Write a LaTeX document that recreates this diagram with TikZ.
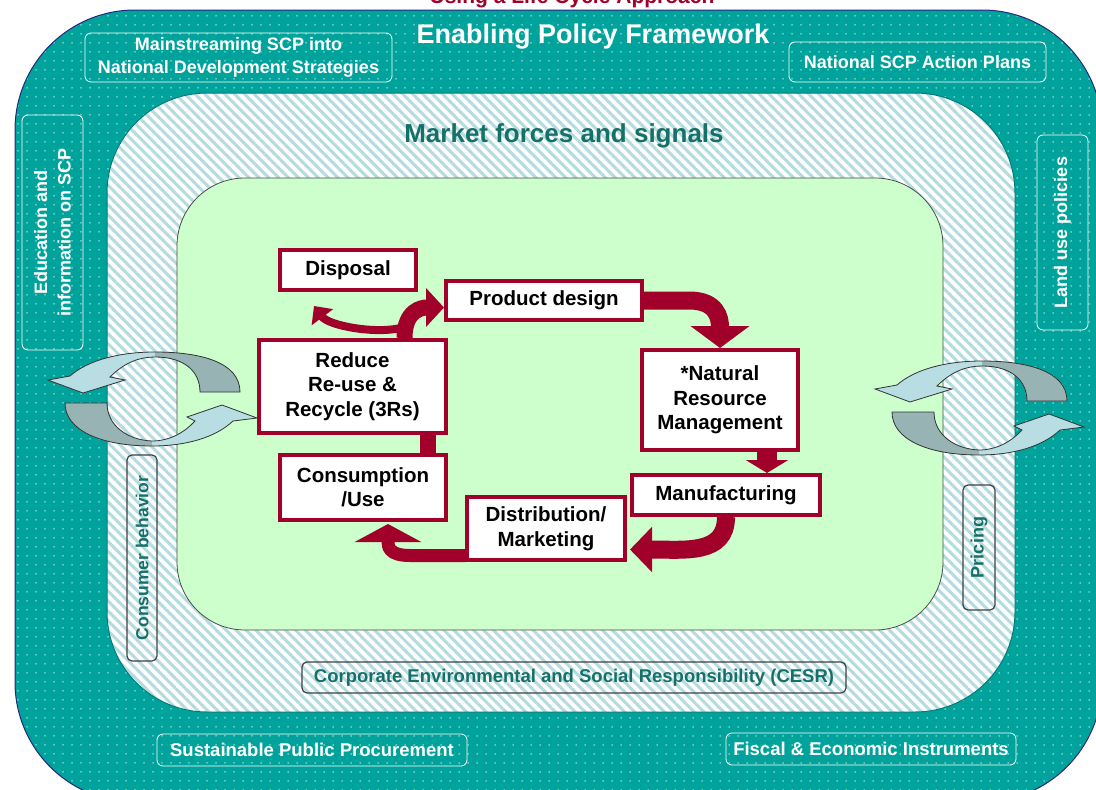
\documentclass[tikz,border=0pt]{standalone}
\usepackage{fontspec}
\setmainfont{Liberation Sans}
\usetikzlibrary{arrows.meta,patterns.meta}

\definecolor{policyteal}{HTML}{00A39C}
\definecolor{stripeblue}{HTML}{B4DCE0}
\definecolor{marketgreen}{HTML}{CCFFCC}
\definecolor{cyclered}{HTML}{A0002A}
\definecolor{darkteal}{HTML}{16706A}
\definecolor{ribbonblue}{HTML}{B8DEE4}
\definecolor{ribbongray}{HTML}{97B3B3}
\definecolor{rimnavy}{HTML}{262680}

\newcommand{\boxfont}{\fontsize{20.5}{24.5}\selectfont\bfseries}
\newcommand{\tealfont}{\fontsize{18}{23.5}\selectfont\bfseries}
\newcommand{\headfont}{\fontsize{27}{30}\selectfont\bfseries}

% the two ribbons of a turning cycle
\newcommand{\upperband}{(240,392) .. controls (240,362) and (200,352) .. (155,352) .. controls (120,352) and (88,360) .. (70,376) -- (48,380) -- (83,393) -- (125,380) -- (110,377) .. controls (125,362) and (140,357) .. (155,357) .. controls (185,357) and (200,372) .. (200,392) -- cycle}
\newcommand{\lowerband}{(65,403) -- (107,403) .. controls (107,426) and (128,440) .. (152,441) .. controls (170,441) and (185,432) .. (195,421) -- (187,417) -- (222,405) -- (257,418) -- (233,421) .. controls (215,438) and (185,446) .. (152,446) .. controls (100,446) and (65,430) .. (65,403) -- cycle}

\begin{document}
\begin{tikzpicture}[x=1pt,y=-1pt,
  redbox/.style={draw=cyclered, line width=4pt, fill=white, inner sep=0pt, align=center, font=\boxfont},
  tealbox/.style={draw=white, line width=0.8pt, rounded corners=6pt, inner sep=0pt, align=center, text=white, font=\tealfont},
  hatchbox/.style={draw=black!75, line width=1.2pt, rounded corners=5pt, inner sep=0pt, align=center, text=darkteal, font=\tealfont},
  redflow/.style={draw=cyclered, line width=#1}]

\useasboundingbox (0,0) rectangle (1096,790);
\clip (0,0) rectangle (1096,790);

%Drawing the three frames
\path[preaction={fill=policyteal}, pattern={Dots[distance=9pt,radius=0.75pt]}, pattern color=white!85!policyteal,
  draw=rimnavy, line width=1pt, rounded corners=120pt] (15,10) rectangle (1102,802);
\path[preaction={fill=white}, pattern={Lines[angle=-45,distance=7pt,line width=3pt]}, pattern color=stripeblue,
  draw=policyteal!75!black, line width=1pt, rounded corners=100pt] (107,93) rectangle (1015,712);
\draw[fill=marketgreen, draw=black!70, line width=0.8pt, rounded corners=68pt] (177,178) rectangle (943,630);

%titles
\node[anchor=base, text=cyclered, font=\fontsize{21}{24}\selectfont\bfseries] (approach) at (572,3.5) {Using a Life Cycle Approach};
\node[text=white, font=\headfont] (policy) at (593,37) {Enabling Policy Framework};
\node[text=darkteal, font=\fontsize{26}{30}\selectfont\bfseries] (market) at (564,136) {Market forces and signals};

%policy instruments
\node[tealbox, minimum width=307pt, minimum height=49pt] (mainstream) at (238.5,57.5) {Mainstreaming SCP into\\National Development Strategies};
\node[tealbox, minimum width=257pt, minimum height=40pt] (actionplans) at (917.5,62) {National SCP Action Plans};
\node[tealbox, rotate=90, minimum width=235pt, minimum height=61pt] (education) at (52.5,232.5) {Education and\\information on SCP};
\node[tealbox, rotate=90, minimum width=195pt, minimum height=51pt] (landuse) at (1062.5,232.5) {Land use policies};
\node[tealbox, minimum width=310pt, minimum height=32pt, font=\fontsize{18.5}{22}\selectfont\bfseries] (procurement) at (312,750) {Sustainable Public Procurement};
\node[tealbox, minimum width=290pt, minimum height=32pt, font=\fontsize{18.5}{22}\selectfont\bfseries] (fiscal) at (871,749) {Fiscal \& Economic Instruments};

%market signals
\node[hatchbox, rotate=90, minimum width=206pt, minimum height=30pt, font=\fontsize{17.5}{21}\selectfont\bfseries] (consumer) at (142,558) {Consumer behavior};
\node[hatchbox, rotate=90, minimum width=125pt, minimum height=32pt] (pricing) at (979,547.5) {Pricing};
\node[hatchbox, minimum width=544pt, minimum height=31pt, font=\fontsize{18.5}{22}\selectfont\bfseries] (cesr) at (574,677.5) {Corporate Environmental and Social Responsibility (CESR)};

%turning cycles left and right
\foreach \cx/\cy in {0/0,827/9}{
  \begin{scope}[shift={(\cx,\cy)}]
    \fill[ribbonblue] \upperband;
    \begin{scope}
      \clip (155,340) rectangle (262,400);
      \fill[ribbongray] \upperband;
    \end{scope}
    \draw[black!80, line width=0.8pt] \upperband;
    \fill[ribbonblue] \lowerband;
    \begin{scope}
      \clip (40,400) rectangle (152,450);
      \fill[ribbongray] \lowerband;
    \end{scope}
    \draw[black!80, line width=0.8pt] \lowerband;
  \end{scope}
}

%life cycle stages
\node[redbox, minimum width=136pt, minimum height=40pt] (disp) at (348,270) {Disposal};
\node[redbox, minimum width=196pt, minimum height=39pt] (design) at (544,300.5) {Product design};
\node[redbox, minimum width=187pt, minimum height=93pt] (rrr) at (352.5,386.5) {Reduce\\Re-use \&\\Recycle (3Rs)};
\node[redbox, minimum width=156pt, minimum height=100pt] (nrm) at (720,400) {*Natural\\Resource\\Management};
\node[redbox, minimum width=188pt, minimum height=40pt] (manu) at (726,495) {Manufacturing};
\node[redbox, minimum width=166pt, minimum height=65pt] (cons) at (363,487.5) {Consumption\\/Use};
\node[redbox, minimum width=158pt, minimum height=63pt] (dist) at (546,528.5) {Distribution/\\Marketing};

%connecting the stages
\draw[redflow=16pt, -{Triangle[length=18pt,width=38pt]}] ([xshift=52pt]rrr.north) .. controls +(0,-28) and +(-22,0) .. ([yshift=-7pt]design.west);
\draw[redflow=8pt, -{Triangle[length=14pt,width=26pt]}] ([xshift=48pt,yshift=10pt]rrr.north) .. controls +(-25,6) and +(15,20) .. ([xshift=-34pt,yshift=-14pt]disp.south);
\draw[redflow=18pt, -{Triangle[length=22pt,width=58pt]}] (design.east) -- ++(45,0) .. controls +(28,0) and +(0,-30) .. (nrm.north);
\coordinate (nrmfoot) at ([xshift=47pt]nrm.south);
\draw[redflow=20pt, -{Triangle[length=13pt,width=42pt]}] (nrmfoot) -- (nrmfoot |- manu.north);
\draw[redflow=18pt, -{Triangle[length=22pt,width=44pt]}] (manu.south) .. controls +(0,38) and +(55,0) .. ([xshift=3pt,yshift=-21pt]dist.east);
\draw[redflow=13pt, -{Triangle[length=18pt,width=66pt]}] ([yshift=-27pt]dist.west) -- ++(-55,0) .. controls +(-22,0) and +(0,22) .. ([xshift=25pt,yshift=-2pt]cons.south);
\coordinate (consneck) at ([xshift=65pt]cons.north);
\draw[redflow=16pt] (consneck) -- (consneck |- rrr.south);

\end{tikzpicture}
\end{document}
